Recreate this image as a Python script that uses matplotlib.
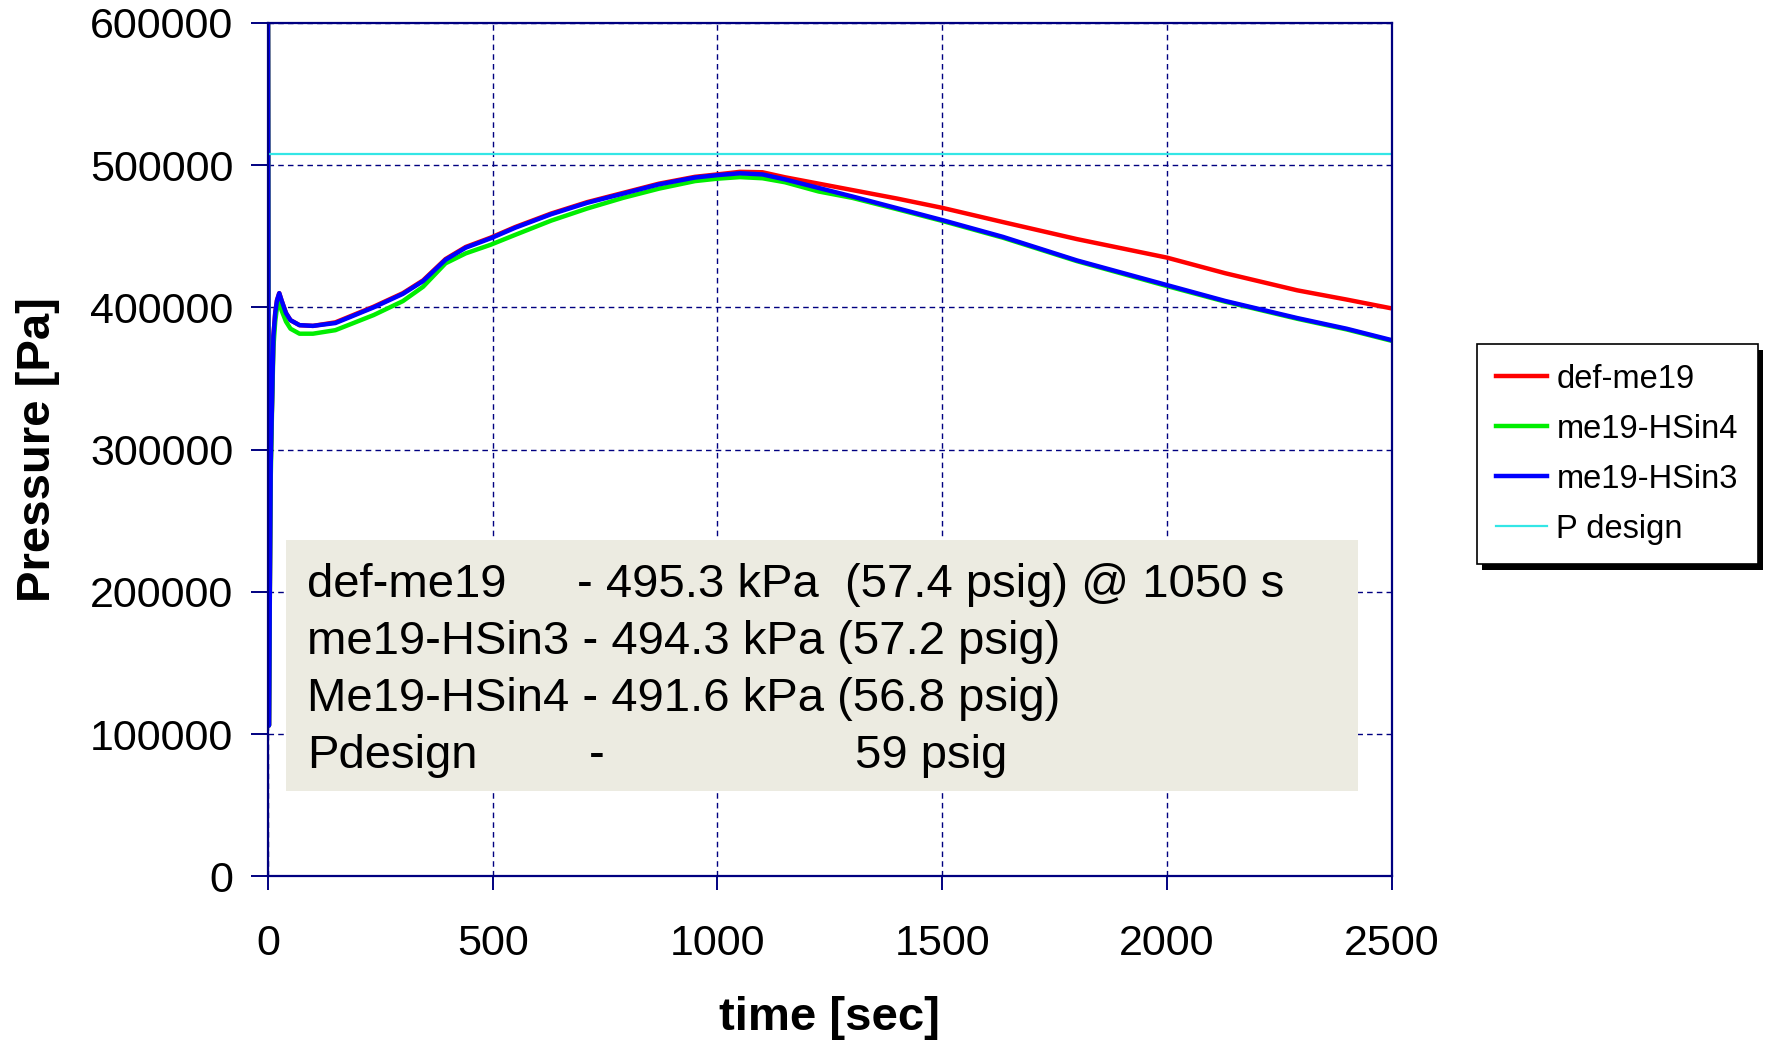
import matplotlib

matplotlib.use("Agg")
import matplotlib.pyplot as plt
from matplotlib import patheffects
from matplotlib.patches import Rectangle

plt.rcParams["font.family"] = ["Liberation Sans", "DejaVu Sans"]

NAVY = "#000080"

# time [s] sampled off the chart
time_s = [0, 2, 4, 6, 9, 12, 16, 20, 25, 30, 40, 50, 70, 100, 150, 235, 300,
          345, 395, 440, 495, 550, 630, 710, 790, 870, 950, 1000, 1050, 1100,
          1150, 1225, 1300, 1400, 1500, 1635, 1800, 2000, 2130, 2290, 2400, 2500]

def_me19 = [620000, 106000, 200000, 290000, 335000, 380000, 396000, 405000,
            410000, 405000, 396000, 391000, 387500, 387000, 389500, 400500,
            410000, 419000, 434000, 442500, 449000, 456500, 466000, 474000,
            480500, 487000, 491800, 493500, 495300, 495000, 491500, 487000,
            482500, 476500, 470000, 460000, 448000, 435000, 424000, 412000,
            405500, 399300]

me19_hsin4 = [620000, 106000, 195000, 280000, 330000, 372000, 390000, 400000,
              404000, 398000, 390000, 385000, 381500, 381500, 384000, 394600,
              404400, 414500, 431000, 438000, 444000, 451000, 461000, 469500,
              477000, 483500, 488800, 490500, 491600, 490800, 488000, 481500,
              477000, 469000, 460800, 449000, 432500, 415000, 404000, 392000,
              384500, 376500]

me19_hsin3 = [620000, 106000, 200000, 290000, 335000, 380000, 396000, 405000,
              410000, 405000, 396000, 391000, 387500, 387000, 389000, 400000,
              409500, 418500, 433500, 442000, 448500, 456000, 465500, 473500,
              480000, 486500, 491300, 493000, 494300, 493500, 490000, 484000,
              478000, 469700, 461400, 449600, 433000, 415700, 404500, 392500,
              385000, 377000]

p_design = 508000
x_ticks = [0, 500, 1000, 1500, 2000, 2500]
y_ticks = [0, 100000, 200000, 300000, 400000, 500000, 600000]

summary_lines = [
    ["def-me19", "- 495.3 kPa  (57.4 psig) @ 1050 s"],
    ["me19-HSin3 - 494.3 kPa (57.2 psig)"],
    ["Me19-HSin4 - 491.6 kPa (56.8 psig)"],
    ["Pdesign", "-", "59 psig"],
]
summary_cols = [
    [0.035, 0.275],
    [0.035],
    [0.035],
    [0.035, 0.286, 0.522],
]


def main():
    fig = plt.figure(figsize=(17.75, 10.42), dpi=100)
    ax = fig.add_axes([0.151, 0.159, 0.633, 0.819])

    ax.plot(time_s, def_me19, color="#ff0000", lw=3.2, label="def-me19")
    ax.plot(time_s, me19_hsin4, color="#00ee00", lw=3.2, label="me19-HSin4")
    ax.plot(time_s, me19_hsin3, color="#0000ff", lw=3.2, label="me19-HSin3")
    ax.plot([x_ticks[0], x_ticks[-1]], [p_design, p_design], color="#33e6e6",
            lw=1.6, label="P design")

    ax.set_xlim(0, 2500)
    ax.set_ylim(0, 600000)
    ax.set_xticks(x_ticks)
    ax.set_yticks(y_ticks)
    ax.set_xticklabels([str(v) for v in x_ticks])
    ax.set_yticklabels([str(v) for v in y_ticks])
    ax.grid(True, color=NAVY, linestyle=(0, (4, 3)), lw=1.0)

    for spine in ax.spines.values():
        spine.set_color(NAVY)
        spine.set_linewidth(1.6)
    ax.tick_params(axis="y", direction="out", length=12, width=1.4,
                   color=NAVY, pad=13, labelsize=31)
    ax.tick_params(axis="x", direction="out", length=10, width=1.4,
                   color=NAVY, pad=24, labelsize=31)

    ax.set_xlabel("time [sec]", fontsize=34, fontweight="bold")
    ax.set_ylabel("Pressure [Pa]", fontsize=34, fontweight="bold")
    ax.xaxis.set_label_coords(0.5, -0.166)
    ax.xaxis.label.set_va("center")
    ax.yaxis.set_label_coords(-0.205, 0.5)
    ax.yaxis.label.set_va("center")

    # summary box
    ax.add_patch(Rectangle((0.016, 0.0997), 0.954, 0.294,
                           transform=ax.transAxes, facecolor="#ecebe1",
                           edgecolor="none", zorder=1.8))
    for i, (pieces, cols) in enumerate(zip(summary_lines, summary_cols)):
        y = 0.327 - i * 0.0668
        for text, x in zip(pieces, cols):
            ax.text(x, y, text, transform=ax.transAxes, fontsize=34,
                    va="baseline", ha="left", zorder=3)

    leg = ax.legend(loc="center", bbox_to_anchor=(0.911, 0.564),
                    bbox_transform=fig.transFigure, fontsize=23.5,
                    frameon=True, fancybox=False, framealpha=1,
                    edgecolor="black", handlelength=1.55, handletextpad=0.3,
                    labelspacing=0.58, borderpad=0.6)
    frame = leg.get_frame()
    frame.set_linewidth(1.2)
    frame.set_path_effects([
        patheffects.withSimplePatchShadow(offset=(4, -4), shadow_rgbFace="black",
                                          alpha=1)
    ])
    for handle in leg.get_lines()[:3]:
        handle.set_linewidth(3.2)

    fig.savefig("out.png", dpi=100)
    plt.close(fig)


if __name__ == "__main__":
    main()
